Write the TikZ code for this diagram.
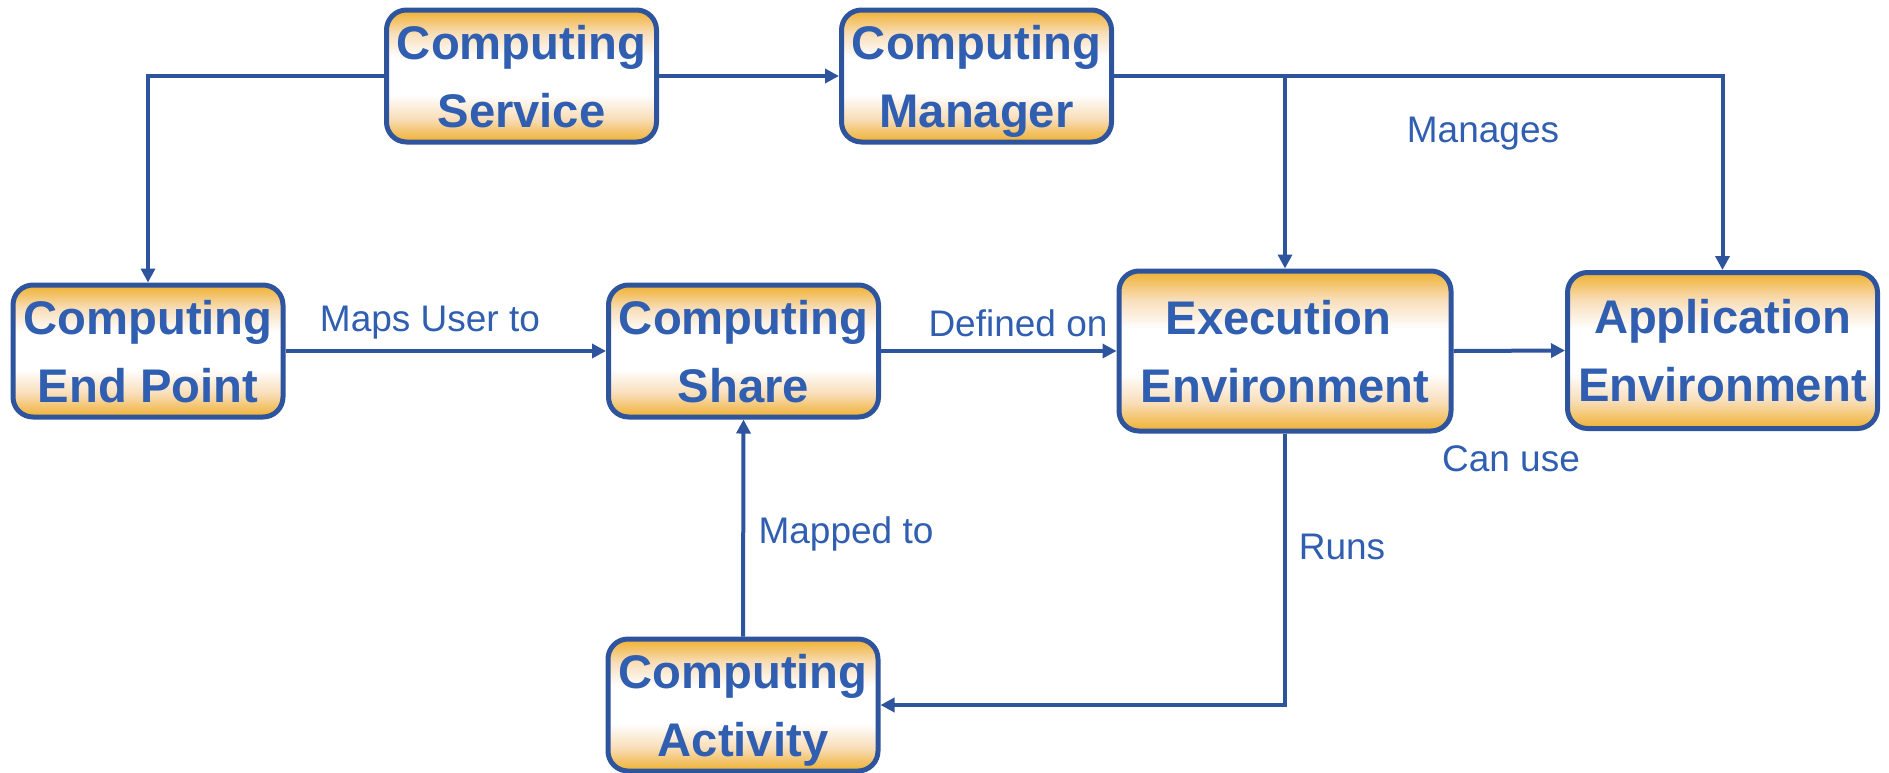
\documentclass[tikz,border=0pt]{standalone}
\usepackage{fontspec}
\setmainfont{Liberation Sans}
\definecolor{boxblue}{RGB}{46, 84, 158}
\definecolor{textblue}{RGB}{48, 94, 176}
\definecolor{shadeorange}{RGB}{240, 176, 48}
\definecolor{shadelight}{RGB}{248, 222, 186}
\usetikzlibrary{arrows.meta, positioning, calc}
\pgfdeclareverticalshading{boxshade}{100bp}{color(0bp)=(shadeorange); color(25bp)=(shadeorange); color(34bp)=(shadelight); color(43bp)=(white); color(57bp)=(white); color(66bp)=(shadelight); color(75bp)=(shadeorange); color(100bp)=(shadeorange)}

\begin{document}
\begin{tikzpicture}[x=0.5pt, y=-0.5pt,
  compbox/.style={draw=boxblue, line width=2.5pt, rounded corners=10pt, shading=boxshade, align=center, text=textblue, font=\fontsize{23.6}{34}\selectfont\bfseries, inner sep=0pt, text depth=0pt, minimum width=135pt, minimum height=66pt},
  conn/.style={draw=boxblue, line width=2pt, -{Triangle[length=7pt, width=7pt]}},
  lbl/.style={text=textblue, font=\fontsize{18.5}{22}\selectfont, inner sep=0pt}
]
  \useasboundingbox (0,0) rectangle (1889,772);

  % Boxes
  \node[compbox] (svc) at (521.5, 76) {Computing\\Service};
  \node[compbox] (mgr) at (976.5, 76) {Computing\\Manager};
  \node[compbox] (cep) at (148, 351) {Computing\\End Point};
  \node[compbox] (shr) at (743.5, 351) {Computing\\Share};
  \node[compbox, minimum width=166pt, minimum height=80pt] (exe) at (1285, 351) {Execution\kern6.6pt\\Environment};
  \node[compbox, minimum width=155pt, minimum height=78pt] (app) at (1722.5, 350.5) {Application\\Environment};
  \node[compbox] (act) at (743, 705) {Computing\\Activity};

  % Connectors
  \draw[conn] (svc.west) -| (cep.north);
  \draw[conn] (svc.east) -- (mgr.west);
  \draw[conn] (mgr.east) -| (app.north);
  \draw[conn] (mgr.east -| exe.north) -- (exe.north);
  \draw[conn] (cep.east) -- (shr.west);
  \draw[conn] (shr.east) -- (exe.west);
  \draw[conn] (exe.east) -- (app.west);
  \draw[conn] (act.north) -- (shr.south);
  \draw[conn] (exe.south) |- (act.east);

  % Labels
  \node[lbl] (manages) at (1483, 134) {Manages};
  \node[lbl] (mapsuser) at (430, 323) {Maps User to};
  \node[lbl] (definedon) at (1018, 323) {Defined on};
  \node[lbl] (canuse) at (1511, 459) {Can use};
  \node[lbl] (mappedto) at (846, 534) {Mapped to};
  \node[lbl] (runs) at (1342, 547) {Runs};
\end{tikzpicture}
\end{document}
